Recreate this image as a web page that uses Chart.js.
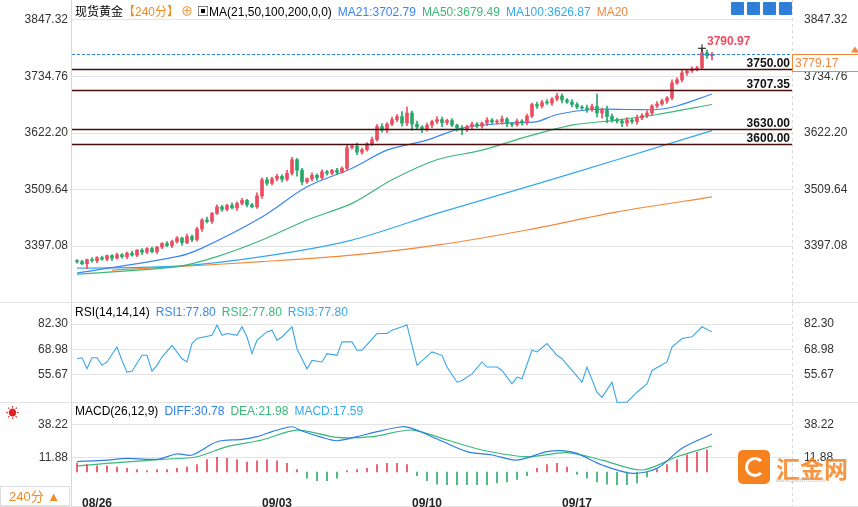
<!DOCTYPE html>
<html><head><meta charset="utf-8">
<script src="https://cdn.jsdelivr.net/npm/chart.js@4"></script>
<style>
body{margin:0;background:#fff;font-family:"Liberation Sans","Noto Sans CJK SC",sans-serif;}
#wrap{position:relative;width:858px;height:507px;overflow:hidden;}
canvas{position:absolute;left:0;}
.t{position:absolute;font-size:12px;white-space:nowrap;font-family:"Liberation Sans","Noto Sans CJK SC",sans-serif;}
.t span{margin-right:6px;}
.ic{position:absolute;top:2px;width:13px;height:13px;background:#2f7fd8;border-radius:1px;}
</style></head><body><div id="wrap">
<canvas id="cMain" style="top:0" width="858" height="303"></canvas>
<canvas id="cRsi" style="top:303px" width="858" height="100"></canvas>
<canvas id="cMacd" style="top:403px" width="858" height="104"></canvas>
<div class="t" style="left:75px;top:2px;"><span style="margin-right:0">现货黄金</span><span style="color:#f08a24;margin-right:2px">【240分】</span><span style="color:#f08a24;margin-right:4px">⊕</span><span>▣MA(21,50,100,200,0,0)</span><span style="color:#3a86f0">MA21:3702.79</span><span style="color:#3cb879">MA50:3679.49</span><span style="color:#34a9ec">MA100:3626.87</span><span style="color:#f5873a">MA20</span></div>
<div class="ic" style="left:731px"></div><div class="ic" style="left:747px"></div><div class="ic" style="left:763px"></div><div class="ic" style="left:779px"></div>
<div class="t" style="left:75px;top:305px;"><span>RSI(14,14,14)</span><span style="color:#3a86f0">RSI1:77.80</span><span style="color:#3cb879">RSI2:77.80</span><span style="color:#34a9ec">RSI3:77.80</span></div>
<div class="t" style="left:75px;top:404px;"><span>MACD(26,12,9)</span><span style="color:#2d7fe8">DIFF:30.78</span><span style="color:#3cb879">DEA:21.98</span><span style="color:#34a9ec">MACD:17.59</span></div>
<div class="t" style="left:6px;top:402px;color:#e02020;font-size:13px">☀</div>
<div class="t" style="left:0;top:486px;width:70px;height:20px;border:1px solid #ddd;color:#f08a24;font-size:13px;line-height:20px;padding-left:8px;box-sizing:border-box">240分 ▲</div>
<div style="position:absolute;left:738px;top:450px;width:32px;height:34px;background:#f5821f;border-radius:5px;"><div style="position:absolute;left:7px;top:7px;width:14px;height:14px;border:3px solid #fff;border-radius:50%;border-right-color:transparent"></div></div>
<div class="t" style="left:776px;top:450px;color:#f5821f;font-size:24px;font-weight:bold;opacity:.85">汇金网</div>
<div class="t" style="left:776px;top:477px;color:#bbb;font-size:6px">www.gold678.com</div>
</div>
<script>
const closes=[3366,3362,3370,3368,3374,3371,3378,3373,3380,3376,
3383,3379,3389,3385,3392,3386,3395,3402,3398,3406,
3413,3404,3416,3410,3431,3449,3446,3462,3475,3470,
3478,3473,3482,3488,3479,3475,3497,3529,3522,3531,
3536,3530,3542,3569,3548,3525,3531,3538,3533,3545,
3542,3548,3544,3552,3593,3596,3584,3589,3601,3609,
3635,3628,3640,3649,3655,3642,3662,3640,3634,3629,
3638,3645,3649,3643,3647,3638,3632,3629,3635,3640,
3636,3642,3648,3644,3645,3650,3641,3639,3646,3643,
3656,3679,3676,3683,3682,3690,3696,3688,3684,3679,
3674,3672,3669,3675,3662,3668,3655,3649,3646,3642,
3648,3645,3652,3657,3662,3676,3680,3686,3692,3722,
3728,3742,3746,3750,3752,3782,3776,3779];
const firstOpen=3368;
const wickUp=[2,3,1,4,2,3,1,2,3,2, 2,4,1,3,2,3,1,2,4,3, 3,2,5,3,4,3,6,2,4,3, 2,5,3,4,2,3,6,4,5,3, 4,3,6,5,3,4,2,5,3,4, 3,2,4,3,5,4,6,3,2,5, 4,6,3,5,4,10,12,4,6,3, 4,3,6,5,3,4,2,5,3,4, 3,2,5,3,4,6,3,2,4,3, 4,3,5,4,6,3,5,4,3,5, 4,3,6,5,25,4,8,5,3,4, 5,3,6,4,5,3,5,4,3,6, 4,5,3,4,3,9,6,4];
const wickDn=[3,2,10,3,4,2,3,5,2,3, 4,2,3,5,3,2,4,3,2,4, 3,5,2,4,3,5,3,4,2,4, 3,2,5,3,4,2,3,5,4,3, 4,5,3,4,12,6,3,4,5,3, 4,3,5,2,4,3,5,4,3,4, 3,4,5,3,4,6,5,12,4,6, 3,5,4,8,4,3,6,10,4,5, 3,4,5,3,4,5,6,4,3,5, 4,3,5,4,3,5,4,6,3,5, 4,3,6,4,8,10,12,5,4,7, 6,4,5,3,4,5,4,3,5,4, 3,4,5,3,4,3,5,8];
const ma21Idx=[0,20,25,37,46,55,62,70,77,86,92,96,103,111,116,120,127];
const ma21Val=[3343,3376,3393,3455,3515,3552,3588,3608,3632,3642,3645,3659,3669,3669,3669,3676,3700];
const ma50Idx=[0,20,28,37,46,55,63,72,81,90,99,108,116,127];
const ma50Val=[3341,3356,3376,3409,3449,3482,3529,3569,3588,3615,3638,3648,3659,3679];
const ma100Idx=[0,20,37,55,72,90,108,127];
const ma100Val=[3353,3357,3376,3409,3462,3515,3569,3627];
const ma200Idx=[7,20,37,55,72,90,108,127];
const ma200Val=[3349,3356,3366,3379,3399,3429,3465,3495];
const levels=[3750.00,3707.35,3630.00,3600.00];
const lastPrice=3779.17, highPrice=3790.97, highIdx=125;
const priceTicks=[3847.32,3734.76,3622.20,3509.64,3397.08];
const rsiIdx=[0,1,2,3,4,5,6,8,9,10,11,13,14,15,16,17,19,21,22,23,24,27,28,29,30,32,33,34,35,36,38,39,40,41,43,44,46,47,49,50,52,53,55,56,57,60,62,63,66,68,71,73,74,76,77,79,81,82,84,85,87,88,89,91,92,94,96,97,99,101,102,104,105,107,108,110,112,114,115,118,119,121,123,125,127];
const rsiVal=[64.0,64.5,58.7,64.5,64.5,60.5,62.3,70.2,63.1,56.9,57.4,65.8,65.8,57.4,60.5,64.9,71.1,64.0,62.3,72.0,74.7,76.4,81.8,76.4,77.3,76.4,80.9,75.5,66.7,73.8,78.2,79.1,73.8,75.5,80.9,69.3,58.7,63.1,62.3,66.7,65.8,72.9,72.9,68.5,68.5,77.3,77.3,79.1,81.8,60.5,67.6,65.8,59.6,51.6,52.5,56.0,62.3,59.6,59.6,57.8,50.7,54.3,53.4,68.5,67.6,72.0,65.8,64.0,57.8,51.6,59.6,46.3,43.6,51.6,41.0,41.0,46.3,50.7,57.8,62.3,70.2,74.7,75.6,80.9,78.2];
const rsiTicks=[82.30,68.98,55.67];
const diffIdx=[0,6,10,16,20,23,28,33,36,39,43,45,49,52,56,60,65,67,71,78,83,88,94,97,100,105,111,116,121,127];
const diffVal=[8.4,9.7,11.1,10.3,14.6,13.8,24.6,26.5,28.7,32.8,36.8,33.3,28.1,25.4,28.7,32.8,36.8,35.5,28.7,16.5,13.8,9.7,16.5,17.3,15.1,5.7,-1.1,2.9,19.2,30.9];
const deaIdx=[0,6,17,24,30,37,44,52,59,67,74,81,90,98,105,113,120,127];
const deaVal=[4.8,7.0,10.3,12.4,20.6,26.0,34.1,28.1,28.7,34.1,26.0,17.9,12.4,15.7,9.7,1.6,12.4,21.1];
const histVal=[7,6,5,5,4,3,2,1,2,2,3,4,6,10,12,11,10,8,9,10,9,7,2,-5,-7,-7,-5,1,2,3,6,7,7,6,-3,-7,-10,-12,-13,-13,-12,-11,-9,-8,-6,-3,3,6,7,4,-2,-5,-8,-10,-11,-12,-9,-4,2,6,10,14,16,18];
const macdTicks=[38.22,11.88];
const dateIdx=[1,37,67,97];
const dateLabels=['08/26','09/03','09/10','09/17'];

const RED='#ec4d5f',GRN='#26a96a',FONT={family:'"Liberation Sans", sans-serif',size:12};
const pts=(ix,v)=>ix.map((x,k)=>({x,y:v[k]}));
const opens=closes.map((c,i)=>i?closes[i-1]:firstOpen);
const bodies=closes.map((c,i)=>({x:i,y:[opens[i],c]}));
const wicks=closes.map((c,i)=>({x:i,y:[Math.min(opens[i],c)-wickDn[i],Math.max(opens[i],c)+wickUp[i]]}));
const cols=closes.map((c,i)=>c>=opens[i]?RED:GRN);

function xScale(showTicks){const s={type:'linear',min:-1,max:143,display:showTicks,offset:false,
  grid:{display:false},border:{display:false},
  afterBuildTicks:s=>{s.ticks=dateIdx.map(v=>({value:v}));},
  ticks:{color:'#222',font:{...FONT,weight:'bold'},autoSkip:false,maxRotation:0,padding:3,align:'start',callback:(v)=>dateLabels[dateIdx.indexOf(v)]??''}};
  s.afterFit=sc=>{sc.paddingLeft=0;sc.paddingRight=0;if(showTicks)sc.height=22;};
  return s;}
function yScales(min,max,ticks){
  const base={min,max,afterBuildTicks:s=>{s.ticks=ticks.map(v=>({value:v}));},
    ticks:{color:'#333',font:FONT,callback:v=>v.toFixed(2),padding:4},
    grid:{color:'#e4e4e4',tickLength:0,lineWidth:1},border:{display:false}};
  return {y:{...base,position:'left',afterFit:s=>{s.width=72;s.paddingTop=0;s.paddingBottom=0;},grid:{...base.grid,borderDash:[3,3]}},
    y2:{...base,position:'right',afterFit:s=>{s.width=66;s.paddingTop=0;s.paddingBottom=0;},grid:{display:false}}};
}
const frame={id:'frame',beforeDraw(c){const {ctx,chartArea:a}=c;ctx.save();ctx.strokeStyle='#d8d8d8';ctx.lineWidth=1;
  ctx.beginPath();ctx.moveTo(a.left-0.5,0);ctx.lineTo(a.left-0.5,c.height);ctx.stroke();
  ctx.setLineDash([3,3]);ctx.beginPath();ctx.moveTo(a.right+0.5,0);ctx.lineTo(a.right+0.5,c.height);ctx.stroke();
  ctx.setLineDash([]);ctx.strokeStyle='#e2e2e2';ctx.beginPath();ctx.moveTo(0,c.height-0.5);ctx.lineTo(c.width,c.height-0.5);ctx.stroke();ctx.restore();}};
const levelPlugin={id:'lv',afterDatasetsDraw(c){const {ctx,chartArea:a,scales:{x,y}}=c;ctx.save();
  ctx.font='bold 12px "Liberation Sans"';
  levels.forEach(v=>{const py=Math.round(y.getPixelForValue(v))+0.5;ctx.strokeStyle='#4a0c0c';ctx.lineWidth=1.4;
    ctx.beginPath();ctx.moveTo(a.left,py);ctx.lineTo(a.right,py);ctx.stroke();
    ctx.fillStyle='#111';ctx.textAlign='right';ctx.fillText(v.toFixed(2),a.right-2,py-3);});
  const cy=Math.round(y.getPixelForValue(lastPrice))+0.5;
  ctx.strokeStyle='#2d7fe8';ctx.lineWidth=1;ctx.setLineDash([3,2]);ctx.beginPath();ctx.moveTo(a.left,cy);ctx.lineTo(a.right,cy);ctx.stroke();ctx.setLineDash([]);
  ctx.fillStyle='#fff';ctx.fillRect(a.right+1,cy,66,17);ctx.strokeStyle='#f5873a';ctx.beginPath();ctx.moveTo(a.right,cy);ctx.lineTo(858,cy);ctx.moveTo(a.right,cy+17);ctx.lineTo(858,cy+17);ctx.moveTo(a.right+0.5,cy);ctx.lineTo(a.right+0.5,cy+17);ctx.stroke();
  ctx.fillStyle='#f5873a';ctx.font='12px "Liberation Sans"';ctx.textAlign='left';ctx.textBaseline='middle';ctx.fillText(lastPrice.toFixed(2),a.right+3,cy+9);
  ctx.beginPath();ctx.moveTo(851,cy-2);ctx.lineTo(855,cy-8);ctx.lineTo(859,cy-2);ctx.fill();
  const hx=x.getPixelForValue(highIdx),hy=y.getPixelForValue(highPrice);
  ctx.strokeStyle='#111';ctx.beginPath();ctx.moveTo(hx-4,hy);ctx.lineTo(hx+4,hy);ctx.moveTo(hx,hy-4);ctx.lineTo(hx,hy+4);ctx.stroke();
  ctx.fillStyle='#ec4d5f';ctx.font='bold 12px "Liberation Sans"';ctx.textBaseline='alphabetic';ctx.fillText(highPrice.toFixed(2),hx+5,hy-3);
  ctx.restore();}};
const lineDs=(ix,v,color)=>({type:'line',data:pts(ix,v),borderColor:color,borderWidth:1.2,pointRadius:0,tension:0.3,xAxisID:'x',yAxisID:'y'});
const common={responsive:false,animation:false,plugins:{legend:{display:false},tooltip:{enabled:false}}};

new Chart(document.getElementById('cMain'),{type:'bar',
  data:{datasets:[
    {data:wicks,backgroundColor:cols,barThickness:1,grouped:false,yAxisID:'y'},
    {data:bodies,backgroundColor:cols,barThickness:3,grouped:false,yAxisID:'y',minBarLength:1},
    lineDs(ma21Idx,ma21Val,'#3a86f0'),lineDs(ma50Idx,ma50Val,'#3cb879'),lineDs(ma100Idx,ma100Val,'#34a9ec'),lineDs(ma200Idx,ma200Val,'#f5873a')]},
  options:{...common,layout:{padding:{top:10,bottom:3}},scales:{x:xScale(false),...yScales(3289.6,3867.2,priceTicks)}},
  plugins:[frame,levelPlugin]});

new Chart(document.getElementById('cRsi'),{type:'line',
  data:{datasets:[{data:pts(rsiIdx,rsiVal),borderColor:'#3aa6e8',borderWidth:1.1,pointRadius:0,tension:0,clip:false}]},
  options:{...common,layout:{padding:{top:2,bottom:0}},scales:{x:xScale(false),...yScales(40.6,92.4,rsiTicks)}},
  plugins:[frame]});

new Chart(document.getElementById('cMacd'),{type:'bar',
  data:{datasets:[
    {data:histVal.map((v,k)=>({x:k*2,y:v})),backgroundColor:histVal.map(v=>v>=0?'#e8465a':'#32ad6b'),barThickness:1,grouped:false},
    lineDs(diffIdx,diffVal,'#2d7fe8'),lineDs(deaIdx,deaVal,'#3cb879')]},
  options:{...common,layout:{padding:{top:0,bottom:0}},scales:{x:xScale(true),...yScales(-10.6,56.1,macdTicks)}},
  plugins:[frame]});
</script></body></html>
